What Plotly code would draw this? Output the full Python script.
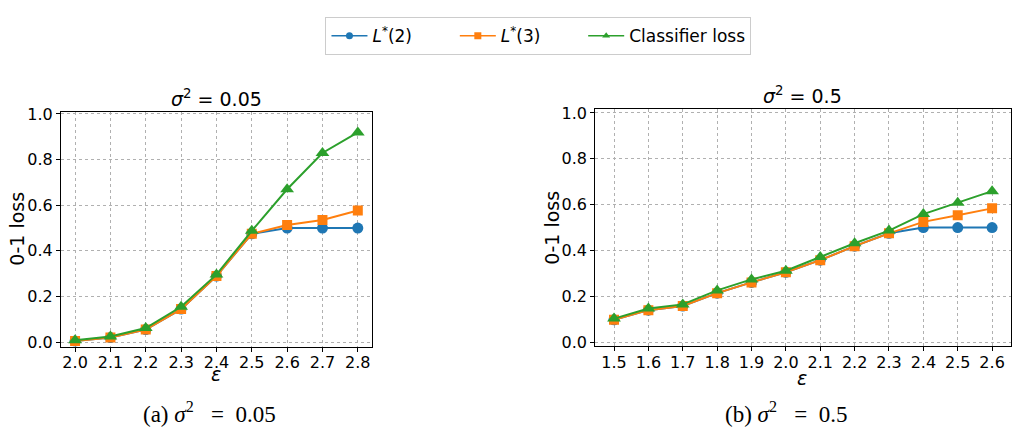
import plotly.graph_objects as go

# ---------------- data ----------------
eps_a = [2.0, 2.1, 2.2, 2.3, 2.4, 2.5, 2.6, 2.7, 2.8]
L2_a = [0.005, 0.020, 0.055, 0.145, 0.290, 0.475, 0.500, 0.500, 0.500]
L3_a = [0.005, 0.020, 0.055, 0.145, 0.290, 0.475, 0.513, 0.535, 0.577]
clf_a = [0.008, 0.025, 0.062, 0.155, 0.296, 0.488, 0.670, 0.829, 0.919]

eps_b = [1.5, 1.6, 1.7, 1.8, 1.9, 2.0, 2.1, 2.2, 2.3, 2.4, 2.5, 2.6]
L2_b = [0.098, 0.140, 0.158, 0.214, 0.261, 0.305, 0.358, 0.419, 0.475, 0.500, 0.500, 0.500]
L3_b = [0.098, 0.140, 0.158, 0.214, 0.261, 0.305, 0.358, 0.419, 0.475, 0.525, 0.554, 0.584]
clf_b = [0.103, 0.147, 0.165, 0.226, 0.274, 0.312, 0.372, 0.432, 0.487, 0.559, 0.609, 0.659]

xticks_a = [2.0, 2.1, 2.2, 2.3, 2.4, 2.5, 2.6, 2.7, 2.8]
xticks_b = [1.5, 1.6, 1.7, 1.8, 1.9, 2.0, 2.1, 2.2, 2.3, 2.4, 2.5, 2.6]
yticks = [0.0, 0.2, 0.4, 0.6, 0.8, 1.0]

names = ["<i>L</i><sup>*</sup>(2)", "<i>L</i><sup>*</sup>(3)", "Classifier loss"]
legend_pad = ["&nbsp;" * 7, "&nbsp;" * 7, ""]
colors = ["#1f77b4", "#ff7f0e", "#2ca02c"]
symbols = ["circle", "square", "triangle-up"]
msizes = [11, 10, 12]

W, H = 1012, 434
def px(x):
    return x / W
def py(y):
    return 1 - y / H

fig = go.Figure()

series = [
    ("x", "y", eps_a, [L2_a, L3_a, clf_a]),
    ("x2", "y2", eps_b, [L2_b, L3_b, clf_b]),
]
for xa, ya, xs, ys in series:
    for i, yv in enumerate(ys):
        fig.add_trace(go.Scatter(
            x=xs, y=yv, xaxis=xa, yaxis=ya, mode="lines+markers",
            line=dict(color=colors[i], width=2),
            marker=dict(symbol=symbols[i], size=msizes[i], color=colors[i]),
            showlegend=False, name=names[i]))

# legend entries (smaller markers, as in the reference legend)
for i in range(3):
    fig.add_trace(go.Scatter(
        x=[None], y=[None], mode="lines+markers", name=names[i] + legend_pad[i],
        line=dict(color=colors[i], width=1.5),
        marker=dict(symbol=symbols[i], size=7, color=colors[i]),
        showlegend=True))

FONT = "DejaVu Sans"
axis_common = dict(
    showline=True, linecolor="black", linewidth=1, mirror=True,
    ticks="outside", ticklen=4, tickwidth=1, tickcolor="black",
    showgrid=True, gridcolor="#b0b0b0", gridwidth=0.8, griddash="dot",
    zeroline=False, tickfont=dict(family=FONT, size=16, color="black"),
    ticklabeloverflow="allow",
)

fig.update_layout(
    width=W, height=H,
    margin=dict(l=0, r=0, t=0, b=0),
    paper_bgcolor="white", plot_bgcolor="white",
    font=dict(family=FONT, color="black"),
    xaxis=dict(domain=[px(61), px(372.3)], range=[1.96, 2.84], anchor="y",
               tickvals=xticks_a, ticktext=[f"{v:.1f}" for v in xticks_a],
               ticklabelstandoff=-3, **axis_common),
    yaxis=dict(domain=[py(349.3), py(107.7)], range=[-0.0196, 1.0098], anchor="x",
               tickvals=yticks, ticktext=[f"{v:.1f}" for v in yticks], **axis_common),
    xaxis2=dict(domain=[px(595.7), 1.0], range=[1.445, 2.655], anchor="y2",
                tickvals=xticks_b, ticktext=[f"{v:.1f}" for v in xticks_b],
                ticklabelstandoff=-3, **axis_common),
    yaxis2=dict(domain=[py(349), py(105)], range=[-0.018, 1.017], anchor="x2",
                tickvals=yticks, ticktext=[f"{v:.1f}" for v in yticks], **axis_common),
    legend=dict(
        orientation="h", x=px(539), xanchor="center", y=py(10.5), yanchor="top",
        bordercolor="#cccccc", borderwidth=1, bgcolor="white",
        font=dict(family=FONT, size=17, color="black"),
        itemwidth=36, tracegroupgap=0,
    ),
)

annots = [
    # titles
    dict(x=px(216.5), y=py(93.5), text="<i>σ</i><sup>2</sup> = 0.05", size=19, fam=FONT, angle=0),
    dict(x=px(803), y=py(91), text="<i>σ</i><sup>2</sup> = 0.5", size=19, fam=FONT, angle=0),
    # x labels
    dict(x=px(216.5), y=py(377), text="<i>ε</i>", size=19, fam=FONT, angle=0),
    dict(x=px(803), y=py(382), text="<i>ε</i>", size=19, fam=FONT, angle=0),
    # y labels
    dict(x=px(17), y=py(228), text="0-1 loss", size=19, fam=FONT, angle=-90),
    dict(x=px(552.5), y=py(227), text="0-1 loss", size=19, fam=FONT, angle=-90),
    # captions
    dict(x=px(210), y=py(417), text="(a) <i>σ</i><sup>2</sup>&nbsp;&nbsp;&nbsp;=&nbsp;&nbsp;0.05", size=23, fam="Liberation Serif", angle=0),
    dict(x=px(787), y=py(417), text="(b) <i>σ</i><sup>2</sup>&nbsp;&nbsp;&nbsp;=&nbsp;&nbsp;0.5", size=23, fam="Liberation Serif", angle=0),
]
for a in annots:
    fig.add_annotation(x=a["x"], y=a["y"], xref="paper", yref="paper",
                       text=a["text"], showarrow=False, textangle=a["angle"],
                       xanchor="center", yanchor="middle",
                       font=dict(family=a["fam"], size=a["size"], color="black"))

fig.write_html("out.html", config={"displayModeBar": False},
               post_script="document.body.style.margin='0px';")
